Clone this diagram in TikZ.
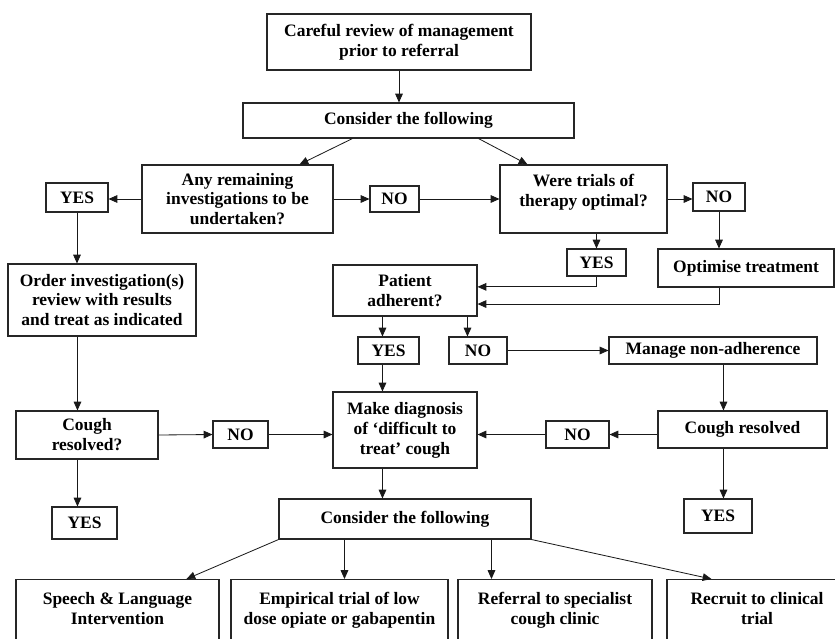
\documentclass[tikz,border=0pt]{standalone}
\usepackage{fontspec}
\setmainfont{Liberation Serif}
\usetikzlibrary{arrows.meta,calc}
\tikzset{
  box/.style={draw=black!85, line width=0.9pt, align=center, inner sep=2pt,
    font=\fontsize{14.9}{17}\selectfont\bfseries},
  sz/.style 2 args={minimum width=#1*0.03cm, minimum height=#2*0.03cm},
  cutbox/.style={box, anchor=north, inner ysep=11pt, text depth=2.5cm, minimum width=#1*0.03cm},
  arr/.style={-{Triangle[length=7.5pt,width=6.5pt]}, line width=0.7pt, black!90}
}

\begin{document}
\begin{tikzpicture}[x=0.03cm, y=-0.03cm]
  \useasboundingbox (0,0) rectangle (835,638);
  \clip (0,0) rectangle (835,638);

  \node[box, sz={264}{56}] (careful) at (399,42) {Careful review of management\\prior to referral};
  \node[box, sz={331}{35}] (consider) at (408.5,120.5) {Consider the following};
  \node[box, sz={191}{68}] (remaining) at (237.5,199) {Any remaining\\investigations to be\\undertaken?};
  \node[box, sz={62}{29}] (yesA) at (77,197.5) {YES};
  \node[box, sz={49}{26}] (noA) at (394.5,199) {NO};
  \node[box, sz={167}{68}] (trials) at (583.5,199) {Were trials of\\therapy optimal?\\[-2pt]\mbox{}};
  \node[box, sz={52}{28}] (noB) at (719,197) {NO};
  \node[box, sz={188}{72}] (order) at (102,300) {Order investigation(s)\\review with results\\and treat as indicated};
  \node[box, sz={59}{27}] (yesB) at (596.5,262.5) {YES};
  \node[box, sz={176}{38}] (optimise) at (746,268) {Optimise treatment};
  \node[box, sz={144}{51}] (patient) at (405,290.5) {Patient\\adherent?};
  \node[box, sz={61}{27}] (yesC) at (388.5,350.5) {YES};
  \node[box, sz={58}{27}] (noC) at (478,350.5) {NO};
  \node[box, sz={208}{27}] (manage) at (713,350.5) {Manage non-adherence};
  \node[box, sz={144}{76}] (make) at (405,430) {Make diagnosis\\of ‘difficult to\\treat’ cough};
  \node[box, sz={142}{48}] (cough1) at (87,435) {Cough\\resolved?};
  \node[box, sz={55}{27}] (noD) at (240.5,434.5) {NO};
  \node[box, sz={169}{37}] (cough2) at (742.5,429.5) {Cough resolved};
  \node[box, sz={63}{27}] (noE) at (577.5,434.5) {NO};
  \node[box, sz={65}{32}] (yesD) at (84.5,523) {YES};
  \node[box, sz={68}{34}] (yesE) at (718,516) {YES};
  \node[box, sz={252}{40}] (consider2) at (405,519) {Consider the following};
  \node[cutbox=203] (speech) at (117.5,579) {Speech \& Language\\Intervention};
  \node[cutbox=217] (empirical) at (339.5,579) {Empirical trial of low\\dose opiate or gabapentin};
  \node[cutbox=194] (referral) at (555,579) {Referral to specialist\\cough clinic};
  \node[cutbox=180] (recruit) at (757,579) {Recruit to clinical\\trial};

  \draw[arr] (careful.south) -- (careful.south |- consider.north);
  \draw[arr] ($(consider.south)+(-56,0)$) -- ($(remaining.north)+(62,0)$);
  \draw[arr] ($(consider.south)+(70,0)$) -- ($(trials.north)+(-56,0)$);
  \draw[arr] (remaining.west) -- (remaining.west -| yesA.east);
  \draw[arr] (remaining.east) -- (noA.west);
  \draw[arr] (noA.east) -- (trials.west);
  \draw[arr] (trials.east) -- (trials.east -| noB.west);
  \draw[arr] (yesA.south) -- (yesA.south |- order.north);
  \draw[arr] (noB.south) -- (noB.south |- optimise.north);
  \draw[arr] (yesB.north |- trials.south) -- (yesB.north);
  \draw[arr] (yesB.south) |- ($(patient.north east)!.43!(patient.south east)$);
  \draw[arr] (noB.south |- optimise.south) |- ($(patient.north east)!.76!(patient.south east)$);
  \draw[arr] ($(patient.south west)+(50,0)$) -- ($(yesC.north west)+(25,0)$);
  \draw[arr] ($(patient.south west)+(135,0)$) -- ($(noC.north west)+(19,0)$);
  \draw[arr] (noC.east) -- (manage.west);
  \draw[arr] ($(yesC.south west)+(25,0)$) -- ($(make.north west)+(50,0)$);
  \draw[arr] ($(manage.south west)+(115,0)$) -- ($(cough2.north west)+(66,0)$);
  \draw[arr] ($(cough2.south west)+(66,0)$) -- ($(yesE.north west)+(40,0)$);
  \draw[arr] ($(order.south west)+(70,0)$) -- ($(cough1.north west)+(62,0)$);
  \draw[arr] ($(cough1.south west)+(62,0)$) -- ($(yesD.north west)+(26,0)$);
  \draw[arr] (cough1.east) -- (noD.west);
  \draw[arr] (noD.east) -- (noD.east -| make.west);
  \draw[arr] (noE.east -| cough2.west) -- (noE.east);
  \draw[arr] (noE.west) -- (noE.west -| make.east);
  \draw[arr] ($(make.south west)+(50,0)$) -- ($(consider2.north west)+(104,0)$);
  \draw[arr] (consider2.south west) -- ($(speech.north west)+(171,0)$);
  \draw[arr] ($(consider2.south west)+(66,0)$) -- ($(empirical.north west)+(114,0)$);
  \draw[arr] ($(consider2.south west)+(213,0)$) -- ($(referral.north west)+(34,0)$);
  \draw[arr] (consider2.south east) -- ($(recruit.north west)+(45,0)$);
\end{tikzpicture}
\end{document}
